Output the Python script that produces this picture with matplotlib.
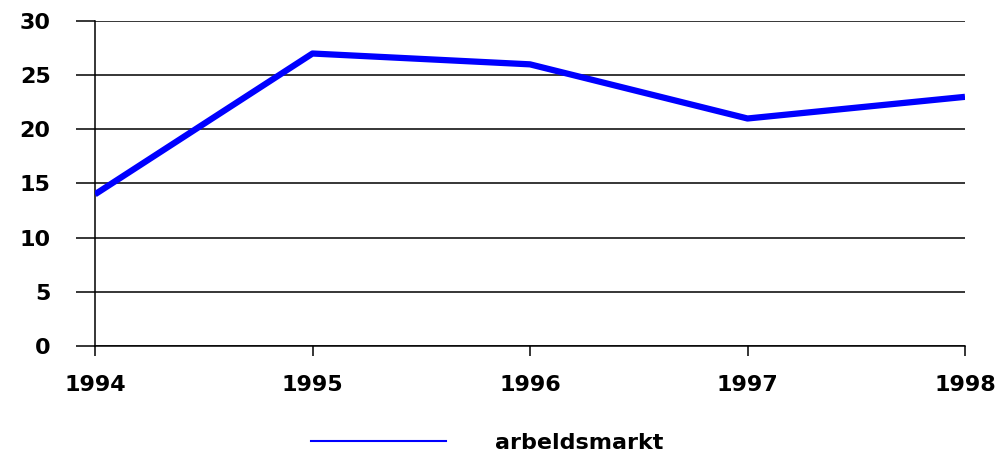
import numpy as np
from matplotlib import pyplot as plt

years = [1994, 1995, 1996, 1997, 1998]
arbeidsmarkt = [14, 27, 26, 21, 23]
yticks = [0, 5, 10, 15, 20, 25, 30]

fig = plt.figure(figsize=(10, 4.57), dpi=100)
ax = fig.add_axes([0.095, 0.243, 0.870, 0.711])

line, = ax.plot(years, arbeidsmarkt, color="#0000ff", linewidth=4.5,
                solid_capstyle="butt", label="arbeldsmarkt", zorder=3)

ax.set_xlim(1994, 1998)
ax.set_ylim(0, 30)
ax.set_xticks(years)
ax.set_yticks(yticks)
ax.yaxis.grid(True, color="black", linewidth=1.1)
ax.set_axisbelow(True)

for s in ["top", "right"]:
    ax.spines[s].set_visible(False)
ax.spines["left"].set_linewidth(1.1)
ax.spines["bottom"].set_linewidth(1.1)

ax.tick_params(axis="y", length=14, width=1.1, pad=18, labelsize=16)
ax.tick_params(axis="x", length=7, width=1.1, pad=14, labelsize=16)
for lab in ax.get_xticklabels() + ax.get_yticklabels():
    lab.set_fontweight("bold")

leg = fig.legend([plt.Line2D([], [], color="#0000ff", linewidth=1.5)],
                 ["arbeldsmarkt"], loc="center", bbox_to_anchor=(0.487, 0.031),
                 frameon=False, handlelength=6.1, handletextpad=2.2,
                 prop={"size": 16, "weight": "bold"})

fig.savefig("out.png", dpi=100)
